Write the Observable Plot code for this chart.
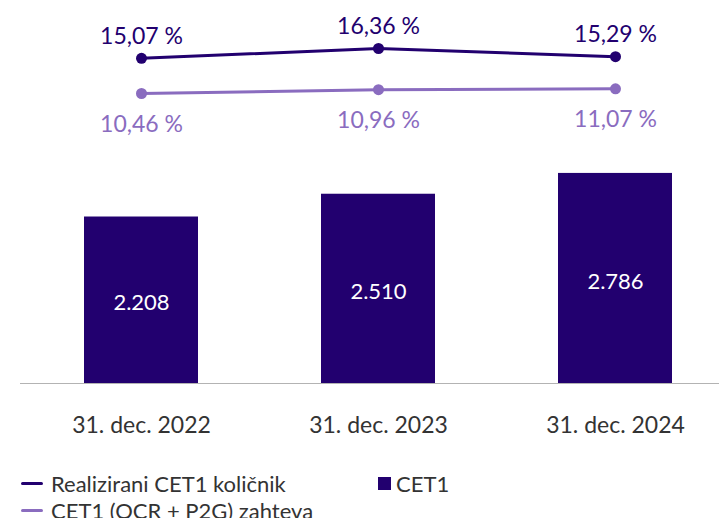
<!DOCTYPE html>
<html>
<head>
<meta charset="utf-8">
<script src="https://cdn.jsdelivr.net/npm/d3@7"></script>
<script src="https://cdn.jsdelivr.net/npm/@observablehq/plot@0.6"></script>
<style>
  body { margin: 0; background: #fff; font-family: Lato, "Open Sans", sans-serif; overflow: hidden; }
  #chart svg { display: block; }
  .legend { position: relative; height: 68px; color: #333; font-size: 22px; font-family: Lato, sans-serif; }
  .legend .item { position: absolute; display: flex; align-items: center; white-space: nowrap; }
  .legend .line { width: 22px; height: 3px; border-radius: 2px; margin-right: 8px; }
  .legend .sq { width: 13px; height: 13px; margin-right: 5px; }
</style>
</head>
<body>
<div id="chart"></div>
<script>
const categories = ["31. dec. 2022", "31. dec. 2023", "31. dec. 2024"];
const cet1Values = [2208, 2510, 2786];
const cet1Labels = ["2.208", "2.510", "2.786"];
const ratioValues = [15.07, 16.36, 15.29];
const ratioLabels = ["15,07 %", "16,36 %", "15,29 %"];
const reqValues = [10.46, 10.96, 11.07];
const reqLabels = ["10,46 %", "10,96 %", "11,07 %"];
const seriesNames = ["Realizirani CET1 količnik", "CET1 (OCR + P2G) zahteva", "CET1"];

const dark = "#22006f";
const light = "#8a6cbf";
const W = 719;

const ratio = categories.map((c, i) => ({cat: c, v: ratioValues[i], label: ratioLabels[i]}));
const req = categories.map((c, i) => ({cat: c, v: reqValues[i], label: reqLabels[i]}));
const bars = categories.map((c, i) => ({cat: c, v: cet1Values[i], label: cet1Labels[i]}));

const xOpts = {domain: categories, paddingInner: 0.521, paddingOuter: 0.229, align: 0.578, axis: null};
const font = "Lato, 'Open Sans', sans-serif";

const linePlot = Plot.plot({
  width: W, height: 150,
  marginLeft: 20, marginRight: 0, marginTop: 0, marginBottom: 0,
  style: {fontFamily: font, background: "transparent"},
  x: {type: "band", ...xOpts},
  y: {domain: [2.99, 22.65], axis: null},
  marks: [
    Plot.line(ratio, {x: "cat", y: "v", stroke: dark, strokeWidth: 3}),
    Plot.dot(ratio, {x: "cat", y: "v", fill: dark, r: 5.5}),
    Plot.text(ratio, {x: "cat", y: "v", text: "label", fill: dark, fontSize: 23, dy: -22}),
    Plot.line(req, {x: "cat", y: "v", stroke: light, strokeWidth: 3}),
    Plot.dot(req, {x: "cat", y: "v", fill: light, r: 5.5}),
    Plot.text(req, {x: "cat", y: "v", text: "label", fill: light, fontSize: 23, dy: 31})
  ]
});

const barPlot = Plot.plot({
  width: W, height: 300,
  marginLeft: 20, marginRight: 0, marginTop: 0, marginBottom: 67,
  style: {fontFamily: font, background: "transparent"},
  x: {type: "band", ...xOpts},
  y: {domain: [0, 3090], axis: null},
  marks: [
    Plot.barY(bars, {x: "cat", y: "v", fill: dark}),
    Plot.text(bars, {x: "cat", y: d => d.v / 2, text: "label", fill: "white", fontSize: 22, dy: 3}),
    Plot.ruleY([0], {stroke: "#b3b3b3", strokeWidth: 1.2}),
    Plot.axisX({tickSize: 0, tickPadding: 33, fontSize: 23, color: "#333", fill: "#333", label: null})
  ]
});

const chart = document.getElementById("chart");
chart.appendChild(linePlot);
chart.appendChild(barPlot);

const legend = document.createElement("div");
legend.className = "legend";
legend.innerHTML = `
  <div class="item" style="left:21px; top:20px;"><span class="line" style="background:${dark}"></span><span>${seriesNames[0]}</span></div>
  <div class="item" style="left:21px; top:47px;"><span class="line" style="background:${light}"></span><span>${seriesNames[1]}</span></div>
  <div class="item" style="left:378px; top:20px;"><span class="sq" style="background:${dark}"></span><span>${seriesNames[2]}</span></div>
`;
chart.appendChild(legend);
</script>
</body>
</html>
